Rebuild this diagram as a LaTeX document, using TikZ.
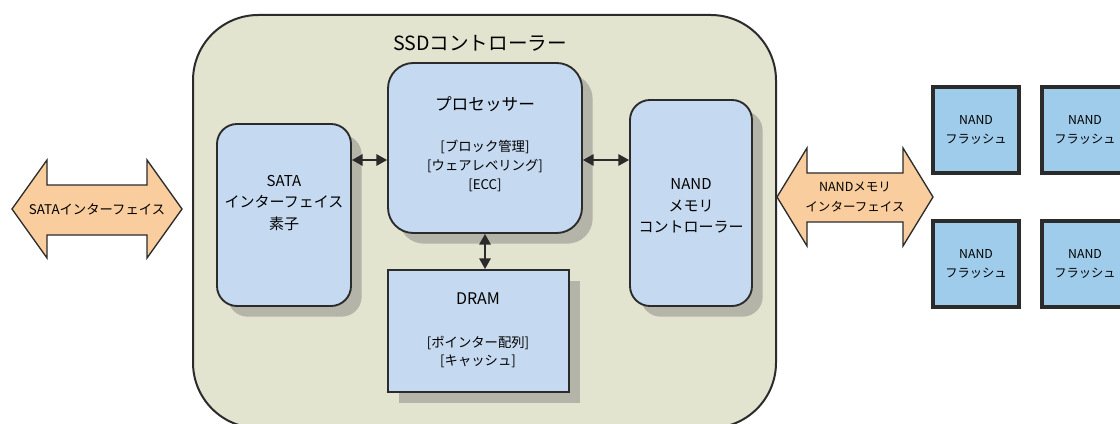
\documentclass[tikz,border=0pt]{standalone}
\usepackage{fontspec}
\setmainfont{Noto Sans CJK JP}
\usetikzlibrary{arrows.meta,shadows,calc}
\definecolor{ctrlfill}{HTML}{E2E4D0}
\definecolor{boxfill}{HTML}{C5D9F0}
\definecolor{shadowc}{HTML}{B4B4A8}
\definecolor{orangec}{HTML}{F9CD9E}
\definecolor{flashfill}{HTML}{A0CCEB}
\definecolor{edgec}{HTML}{2B2B2B}
\begin{document}
\begin{tikzpicture}[x=0.75pt,y=-0.75pt,
  container/.style={draw=edgec,line width=1.5pt,fill=ctrlfill,rounded corners=49pt,minimum width=437.25pt,minimum height=309.75pt,inner sep=0pt},
  blockbox/.style={draw=edgec,line width=1.4pt,fill=boxfill,inner sep=0pt,
    general shadow={fill=shadowc,shadow xshift=8pt,shadow yshift=-8pt}},
  flashbox/.style={draw=edgec,line width=2.3pt,fill=flashfill,minimum width=64.5pt,minimum height=64.5pt,inner sep=0pt,align=center,font=\fontsize{9.2pt}{14.25pt}\selectfont},
  bigtext/.style={align=center,font=\fontsize{11.25pt}{16pt}\selectfont,inner sep=0pt},
  smalltext/.style={align=center,font=\fontsize{10pt}{14pt}\selectfont,inner sep=0pt},
  bigarrow/.style={draw=edgec,line width=1pt,fill=orangec},
  link/.style={line width=1.5pt,draw=edgec,{Triangle[length=8pt,width=8.5pt]}-{Triangle[length=8pt,width=8.5pt]}}
]
\useasboundingbox (0,0) rectangle (1120,424);
% container
\node[container] (ctrl) at (484.5,221.5) {};
\node[inner sep=0pt,font=\fontsize{14.7pt}{17pt}\selectfont] (ctrltitle) at (480,43) {SSDコントローラー};
% blocks
\node[blockbox,rounded corners=15pt,minimum width=100.5pt,minimum height=136.5pt] (sata) at (284,215) {};
\node[blockbox,rounded corners=19pt,minimum width=145.5pt,minimum height=127.5pt] (proc) at (485,148) {};
\node[blockbox,minimum width=135.75pt,minimum height=91.5pt] (dram) at (478.5,331) {};
\node[blockbox,rounded corners=15pt,minimum width=91.5pt,minimum height=154.5pt] (nandc) at (691,203) {};
% texts
\node[bigtext] (satatext) at (284,203) {SATA\\インターフェイス\\素子};
\node[smalltext,font=\fontsize{12.5pt}{14pt}\selectfont] (proctitle) at (485,104) {プロセッサー};
\node[smalltext] (proclist) at (485,166) {{[}ブロック管理{]}\\{[}ウェアレベリング{]}\\{[}ECC{]}};
\node[smalltext,font=\fontsize{12pt}{14pt}\selectfont] (dramtitle) at (478,299) {DRAM};
\node[smalltext] (dramlist) at (478,352) {{[}ポインター配列{]}\\{[}キャッシュ{]}};
\node[bigtext] (nandctext) at (691,206) {NAND\\メモリ\\コントローラー};
% links
\coordinate (lk) at ([yshift=-9pt]proc.west);
\draw[link] (sata.east |- lk) -- (lk);
\coordinate (rk) at ([yshift=-9pt]proc.east);
\draw[link] (rk) -- (nandc.west |- rk);
\draw[link] (proc.south) -- (proc.south |- dram.north);
% big arrows
\draw[bigarrow] (12,209) -- (47,160) -- (47,185) -- (147,185) -- (147,160) -- (182,209) -- (147,258) -- (147,235) -- (47,235) -- (47,258) -- cycle;
\node[inner sep=0pt,font=\fontsize{10pt}{12pt}\selectfont] (satai) at (97,209) {SATAインターフェイス};
\draw[bigarrow] (777,197) -- (807,148) -- (807,173) -- (903,173) -- (903,148) -- (933,197) -- (903,246) -- (903,222) -- (807,222) -- (807,246) -- cycle;
\node[inner sep=0pt,align=center,font=\fontsize{9.4pt}{15pt}\selectfont] (nandi) at (855,197) {NANDメモリ\\インターフェイス};
% flash chips
\node[flashbox] (f1) at (976,130) {NAND\\フラッシュ};
\node[flashbox] (f2) at (1085,130) {NAND\\フラッシュ};
\node[flashbox] (f3) at (976,264) {NAND\\フラッシュ};
\node[flashbox] (f4) at (1085,264) {NAND\\フラッシュ};
\end{tikzpicture}
\end{document}
